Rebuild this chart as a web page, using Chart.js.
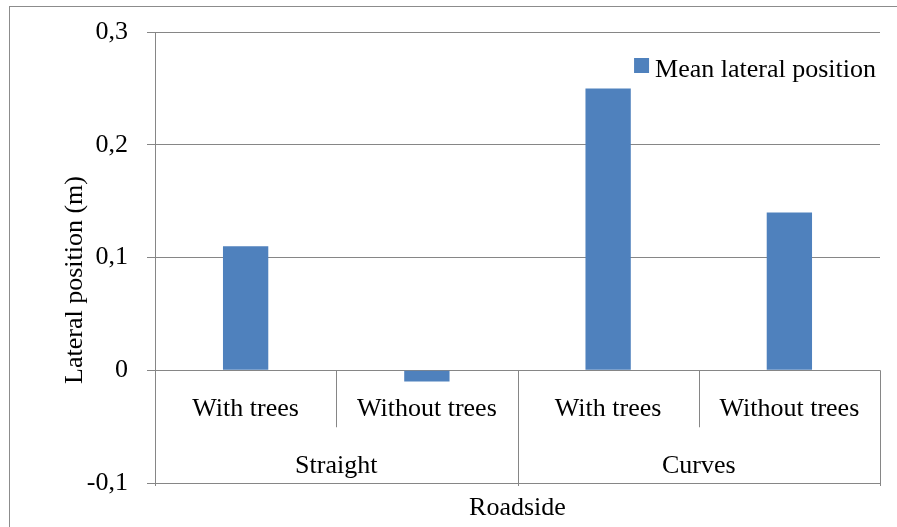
<!DOCTYPE html>
<html>
<head>
<meta charset="utf-8">
<script src="https://cdn.jsdelivr.net/npm/chart.js@4.4.0/dist/chart.umd.min.js"></script>
<style>
  body { margin: 0; background: #ffffff; }
  #wrap { width: 897px; height: 527px; }
</style>
</head>
<body>
<div id="wrap"><canvas id="myChart" width="897" height="527"></canvas></div>
<script>
// categories and values
const subLabels = ["With trees", "Without trees", "With trees", "Without trees"];
const groupLabels = ["Straight", "Curves"];
const groupSizes = [2, 2];
const meanLateral = [0.11, -0.01, 0.25, 0.14];
const yTicks = [-0.1, 0, 0.1, 0.2, 0.3];

const fontName = "'Liberation Serif', 'Times New Roman', serif";
const fontSize = 26;
const gridGray = "#868686";
const barBlue = "#4F81BD";

// outer frame, separators under the axis, group labels, titles and legend
const roadsidePlugin = {
  id: "roadside",
  beforeDraw: function (chart) {
    let c = chart.ctx;
    c.save();
    c.strokeStyle = "#8c8c8c";
    c.lineWidth = 1;
    c.strokeRect(9.5, 6.5, 1000, 1000);
    c.restore();
  },
  afterDraw: function (chart) {
    let c = chart.ctx;
    let x = chart.scales.x;
    let y = chart.scales.y;
    let area = chart.chartArea;
    let y0 = y.getPixelForValue(0);
    let yBottom = y.getPixelForValue(-0.1);

    c.save();
    c.strokeStyle = gridGray;
    c.lineWidth = 1;

    // boundary between two categories
    function edge(i) {
      if (i <= 0) return area.left;
      if (i >= subLabels.length) return area.right;
      return (x.getPixelForValue(i - 1) + x.getPixelForValue(i)) / 2;
    }

    let start = 0;
    let groupEdges = [0];
    for (var g = 0; g < groupSizes.length; g++) {
      start += groupSizes[g];
      groupEdges.push(start);
    }

    for (var i = 0; i <= subLabels.length; i++) {
      let px = Math.round(edge(i)) + 0.5;
      let isGroup = groupEdges.indexOf(i) !== -1;
      c.beginPath();
      c.moveTo(px, y0);
      c.lineTo(px, isGroup ? yBottom + 3 : y0 + 57);
      c.stroke();
    }

    c.fillStyle = "#000000";
    c.font = fontSize + "px " + fontName;
    c.textAlign = "center";
    c.textBaseline = "middle";
    for (var g = 0; g < groupLabels.length; g++) {
      let mid = (edge(groupEdges[g]) + edge(groupEdges[g + 1])) / 2;
      c.fillText(groupLabels[g], mid, y0 + 96);
    }
    c.fillText("Roadside", (area.left + area.right) / 2, yBottom + 25);

    // y axis title
    c.save();
    c.translate(75, 280);
    c.rotate(-Math.PI / 2);
    c.fillText("Lateral position (m)", 0, 0);
    c.restore();

    // legend inside the plot, top right
    let ds = chart.data.datasets[0];
    let textW = c.measureText(ds.label).width;
    let textX = area.right - 4 - textW;
    c.textAlign = "left";
    c.textBaseline = "alphabetic";
    c.fillText(ds.label, textX, 77);
    c.fillStyle = ds.backgroundColor;
    c.fillRect(textX - 21, 58, 15, 15);
    c.restore();
  },
};

var ctx = document.getElementById("myChart").getContext("2d");

var chart = new Chart(ctx, {
  // The type of chart we want to create
  type: "bar",

  // The data for our dataset
  data: {
    labels: subLabels,
    datasets: [
      {
        label: "Mean lateral position",
        backgroundColor: barBlue,
        borderColor: barBlue,
        borderWidth: 0,
        data: meanLateral,
        barPercentage: 0.5,
        categoryPercentage: 0.5,
      },
    ],
  },

  // Configuration options go here
  options: {
    responsive: false,
    animation: false,
    devicePixelRatio: 1,
    layout: {
      padding: { left: 0, top: 32, right: 17, bottom: 44 },
    },
    plugins: {
      tooltip: { enabled: false },
      legend: { display: false },
    },
    scales: {
      x: {
        position: { y: 0 },
        offset: true,
        afterFit: function (scale) {
          scale.paddingTop = 0;
          scale.paddingBottom = 0;
          scale.paddingLeft = 0;
          scale.paddingRight = 0;
        },
        grid: { display: false, drawOnChartArea: false, drawTicks: false },
        border: { display: false },
        ticks: {
          color: "#000000",
          padding: 23,
          maxRotation: 0,
          autoSkip: false,
          font: { family: fontName, size: fontSize },
        },
      },
      y: {
        min: -0.1,
        max: 0.3,
        afterFit: function (scale) {
          scale.width = 155;
          scale.paddingTop = 0;
          scale.paddingBottom = 0;
        },
        afterBuildTicks: function (scale) {
          scale.ticks = yTicks.map(function (v) {
            return { value: v };
          });
        },
        grid: { color: gridGray, tickLength: 8, tickColor: gridGray },
        border: { display: true, color: gridGray },
        ticks: {
          color: "#000000",
          padding: 19,
          font: { family: fontName, size: fontSize },
          callback: function (v) {
            if (Math.abs(v) < 1e-9) return "0";
            return v.toFixed(1).replace(".", ",");
          },
        },
      },
    },
  },
  plugins: [roadsidePlugin],
});
</script>
</body>
</html>
